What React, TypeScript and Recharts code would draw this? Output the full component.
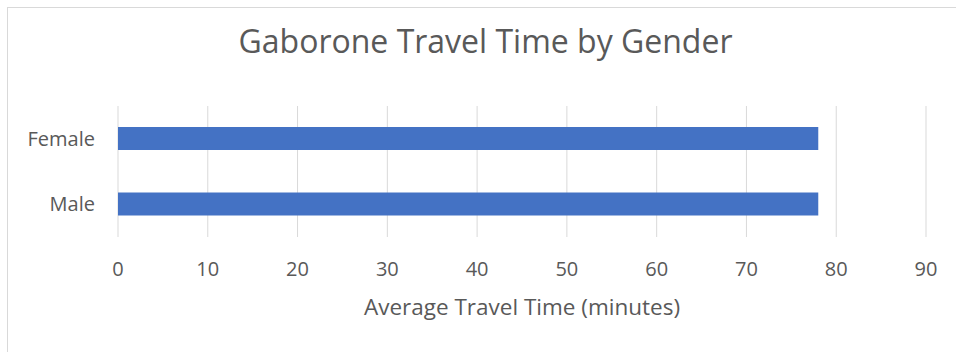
import { Bar, BarChart, CartesianGrid, XAxis, YAxis, Label } from "recharts"

const genders = ["Female", "Male"]
const avgMinutes = [78, 78]
const xTicks = [0, 10, 20, 30, 40, 50, 60, 70, 80, 90]

const data = genders.map((name, i) => ({ name, value: avgMinutes[i] }))

const textColor = "#595959"
const font = "'Open Sans', sans-serif"

export default function App() {
  return (
    <div
      style={{
        position: "absolute",
        left: 0,
        top: 0,
        width: 956,
        height: 352,
        overflow: "hidden",
        background: "#fff",
        fontFamily: font,
      }}
    >
      {/* chart frame, right and bottom edges run off the page */}
      <div
        style={{
          position: "absolute",
          left: 7,
          top: 7,
          width: 970,
          height: 370,
          border: "1px solid #d9d9d9",
        }}
      />
      <div
        style={{
          position: "absolute",
          left: 0,
          width: 971,
          top: 19,
          textAlign: "center",
          fontSize: 32,
          color: textColor,
          lineHeight: "44px",
          whiteSpace: "nowrap",
        }}
      >
        Gaborone Travel Time by Gender
      </div>
      <div style={{ position: "absolute", left: 0, top: 0 }}>
        <BarChart
          width={956}
          height={352}
          data={data}
          layout="vertical"
          margin={{ top: 106, right: 30, left: 18, bottom: 0 }}
        >
          <CartesianGrid horizontal={false} stroke="#d9d9d9" strokeWidth={1} />
          <XAxis
            type="number"
            domain={[0, 90]}
            ticks={xTicks}
            axisLine={false}
            tickLine={false}
            tickSize={0}
            tickMargin={25}
            height={115}
            tick={{ fill: textColor, fontSize: 20, fontFamily: font }}
          >
            <Label
              value="Average Travel Time (minutes)"
              position="insideBottom"
              offset={37}
              style={{ fill: textColor, fontSize: 22.5, fontFamily: font }}
            />
          </XAxis>
          <YAxis
            type="category"
            dataKey="name"
            width={100}
            axisLine={false}
            tickLine={false}
            tickSize={0}
            tickMargin={23}
            tick={{ fill: textColor, fontSize: 20, fontFamily: font }}
          />
          <Bar dataKey="value" fill="#4472c4" barSize={23} isAnimationActive={false} />
        </BarChart>
      </div>
    </div>
  )
}
